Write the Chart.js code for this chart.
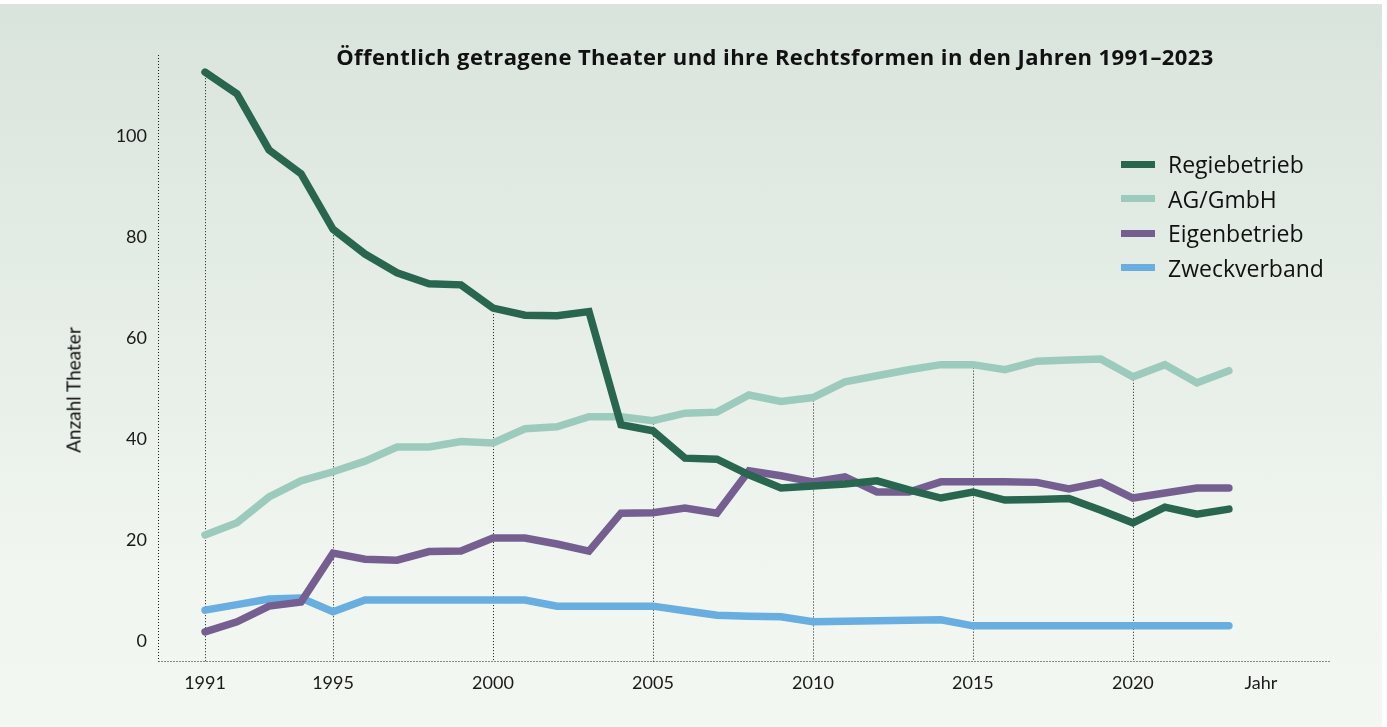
<!DOCTYPE html>
<html lang="de">
<head>
<meta charset="utf-8">
<title>Öffentlich getragene Theater und ihre Rechtsformen</title>
<script src="https://cdn.jsdelivr.net/npm/chart.js@4.4.0/dist/chart.umd.min.js"></script>
<style>
  html, body { margin: 0; padding: 0; background: #fff; }
  body { width: 1387px; height: 727px; position: relative; overflow: hidden; font-family: Lato, "Open Sans", sans-serif; color: #111; }
  #panel { position: absolute; left: 0; top: 4px; width: 1382px; height: 723px; background: linear-gradient(to bottom, #d9e4dc 0%, #e6eee7 45%, #f1f6f0 80%, #f2f7f1 100%); }
  #wrap { position: absolute; left: 0; top: 0; width: 1387px; height: 727px; }
  #title { position: absolute; left: 775px; top: 41px; transform: translateX(-50%); font-family: "Open Sans", sans-serif; font-weight: 700; font-size: 22px; letter-spacing: 0.4px; white-space: nowrap; }
  #ytitle { position: absolute; left: 73px; top: 390px; transform: translate(-50%, -50%) rotate(-90deg); font-size: 19px; white-space: nowrap; }
  #legend { position: absolute; left: 1121px; top: 147px; }
  .lg-row { display: flex; align-items: center; height: 34.5px; }
  .lg-line { width: 34px; height: 7px; margin-right: 13px; }
  .lg-text { font-family: "Open Sans", sans-serif; font-size: 23px; }
</style>
</head>
<body>
<div id="panel"></div>
<div id="wrap"><canvas id="chart" width="1387" height="727"></canvas></div>
<div id="title">Öffentlich getragene Theater und ihre Rechtsformen in den Jahren 1991–2023</div>
<div id="ytitle">Anzahl Theater</div>
<div id="legend"></div>
<script>
// --- Daten ---
const years = [1991, 1992, 1993, 1994, 1995, 1996, 1997, 1998, 1999, 2000,
  2001, 2002, 2003, 2004, 2005, 2006, 2007, 2008, 2009, 2010,
  2011, 2012, 2013, 2014, 2015, 2016, 2017, 2018, 2019, 2020,
  2021, 2022, 2023];

const regiebetrieb = [112.6, 108.3, 97.2, 92.5, 81.5, 76.6, 72.9, 70.7, 70.5, 65.9,
  64.5, 64.4, 65.2, 42.8, 41.6, 36.2, 36.0, 32.9, 30.3, 30.7,
  31.1, 31.7, 29.9, 28.3, 29.5, 27.9, 28.0, 28.2, 25.9, 23.4,
  26.5, 25.1, 26.1];

const agGmbh = [21.0, 23.4, 28.5, 31.7, 33.5, 35.6, 38.4, 38.4, 39.5, 39.2,
  42.0, 42.4, 44.4, 44.4, 43.6, 45.1, 45.3, 48.7, 47.4, 48.2,
  51.3, 52.5, 53.7, 54.7, 54.7, 53.7, 55.4, 55.6, 55.8, 52.3,
  54.7, 51.1, 53.5];

const eigenbetrieb = [1.8, 3.8, 6.9, 7.7, 17.4, 16.2, 16.0, 17.7, 17.8, 20.4,
  20.4, 19.2, 17.8, 25.3, 25.4, 26.3, 25.3, 33.7, 32.7, 31.5,
  32.5, 29.5, 29.5, 31.5, 31.5, 31.5, 31.4, 30.1, 31.4, 28.3,
  29.3, 30.3, 30.3];

const zweckverband = [6.1, 7.2, 8.3, 8.5, 5.8, 8.1, 8.1, 8.1, 8.1, 8.1,
  8.1, 6.9, 6.9, 6.9, 6.9, 6.0, 5.1, 4.9, 4.8, 3.8,
  3.9, 4.0, 4.1, 4.2, 3.0, 3.0, 3.0, 3.0, 3.0, 3.0,
  3.0, 3.0, 3.0];

const seriesNames = ['Regiebetrieb', 'AG/GmbH', 'Eigenbetrieb', 'Zweckverband'];
const seriesColors = ['#28664f', '#9ccbbd', '#755f91', '#68aee0'];

const xTicks = [1991, 1995, 2000, 2005, 2010, 2015, 2020];
const xAxisLabelYear = 2024;   // Position der Beschriftung "Jahr"
const yTicks = [0, 20, 40, 60, 80, 100];

function toPoints(arr) {
  return years.map((y, i) => ({ x: y, y: arr[i] }));
}

const allSeries = [regiebetrieb, agGmbh, eigenbetrieb, zweckverband];

// gepunktete Achsen + Linien von der Achse bis zum höchsten Wert des Jahres
const dottedLines = {
  id: 'dottedLines',
  beforeDatasetsDraw(chart) {
    const { ctx, scales: { x, y } } = chart;
    ctx.save();
    ctx.strokeStyle = '#1a1a1a';
    ctx.lineWidth = 1;
    ctx.setLineDash([1, 2]);

    // Achsen
    const ax = Math.round(x.left) + 0.5;
    const ay = Math.round(y.bottom) + 0.5;
    ctx.beginPath();
    ctx.moveTo(ax, y.top);
    ctx.lineTo(ax, ay);
    ctx.moveTo(ax, ay);
    ctx.lineTo(x.right, ay);
    ctx.stroke();

    xTicks.forEach(yr => {
      const i = years.indexOf(yr);
      const top = Math.max(...allSeries.map(s => s[i]));
      const px = Math.round(x.getPixelForValue(yr)) + 0.5;
      ctx.beginPath();
      ctx.moveTo(px, y.getPixelForValue(top));
      ctx.lineTo(px, ay);
      ctx.stroke();
    });
    ctx.restore();
  }
};

const ctx = document.getElementById('chart').getContext('2d');
const chart = new Chart(ctx, {
  type: 'line',
  data: {
    datasets: allSeries.map((s, i) => ({
      label: seriesNames[i],
      data: toPoints(s),
      borderColor: seriesColors[i],
      backgroundColor: seriesColors[i],
      borderWidth: 7.5,
      borderCapStyle: 'round',
      borderJoinStyle: 'miter',
      pointRadius: 0,
      tension: 0,
      fill: false
    }))
  },
  options: {
    responsive: false,
    animation: false,
    layout: { padding: { top: 55, right: 57, bottom: 0, left: 0 } },
    plugins: {
      legend: { display: false },
      tooltip: { enabled: false },
      title: { display: false }
    },
    scales: {
      x: {
        type: 'linear',
        min: 1989.53,
        max: 2026.16,
        afterFit(scale) { scale.height = 66; },
        afterBuildTicks(scale) {
          scale.ticks = xTicks.concat([xAxisLabelYear]).map(v => ({ value: v }));
        },
        grid: { display: false, drawTicks: false },
        border: { display: false },
        ticks: {
          padding: 11,
          color: '#1a1a1a',
          font: { family: 'Lato', size: 18 },
          callback: v => (v === xAxisLabelYear ? 'Jahr' : String(v))
        }
      },
      y: {
        min: -3.96,
        max: 116,
        afterFit(scale) { scale.width = 158; },
        afterBuildTicks(scale) {
          scale.ticks = yTicks.map(v => ({ value: v }));
        },
        grid: { display: false, drawTicks: false },
        border: { display: false },
        ticks: {
          padding: 11,
          color: '#1a1a1a',
          font: { family: 'Lato', size: 18 }
        }
      }
    }
  },
  plugins: [dottedLines]
});

// Legende
const lg = document.getElementById('legend');
seriesNames.forEach((name, i) => {
  const row = document.createElement('div');
  row.className = 'lg-row';
  row.innerHTML = `<div class="lg-line" style="background:${seriesColors[i]}"></div><div class="lg-text">${name}</div>`;
  lg.appendChild(row);
});
</script>
</body>
</html>
